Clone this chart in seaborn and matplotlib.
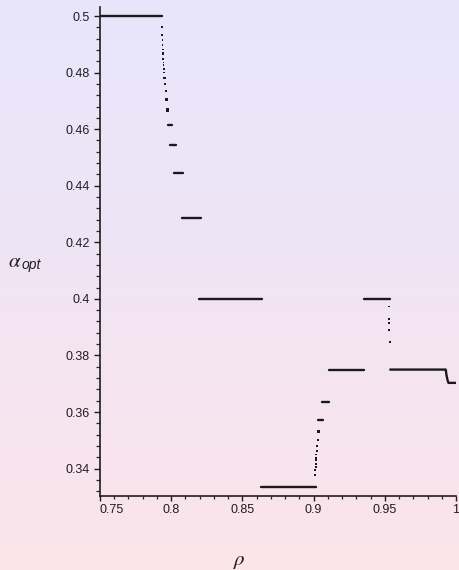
import numpy as np
import pandas as pd
import matplotlib
matplotlib.use("Agg")
import matplotlib.pyplot as plt
from matplotlib.ticker import MultipleLocator, FixedLocator, FixedFormatter
from matplotlib.colors import LinearSegmentedColormap
import seaborn as sns

# ---- data ----
# plateaus (horizontal runs of alpha_opt), each a polyline
plateau_id = [0, 0,
              1, 1,
              2, 2,
              3, 3,
              4, 4,
              5, 5,
              6, 6,
              7, 7,
              8, 8,
              9, 9,
              10, 10,
              11, 11, 11, 11, 11, 11]
plateau_rho = [0.7500, 0.7938,
               0.7979, 0.8005,
               0.7993, 0.8035,
               0.8023, 0.8086,
               0.8075, 0.8209,
               0.8197, 0.8641,
               0.8630, 0.9015,
               0.9034, 0.9063,
               0.9058, 0.9105,
               0.9105, 0.9357,
               0.9354, 0.9537,
               0.9538, 0.9928, 0.9933, 0.9940, 0.9947, 1.0000]
plateau_alpha = [0.5000, 0.5000,
                 0.4615, 0.4615,
                 0.4545, 0.4545,
                 0.4444, 0.4444,
                 0.4286, 0.4286,
                 0.4000, 0.4000,
                 0.3334, 0.3334,
                 0.3571, 0.3571,
                 0.3637, 0.3637,
                 0.3750, 0.3750,
                 0.4000, 0.4000,
                 0.3750, 0.3750, 0.3731, 0.3714, 0.3703, 0.3703]

# isolated transition points
dot_rho = [0.7936, 0.7936, 0.7939, 0.7939, 0.7941, 0.7941, 0.7941, 0.7943,
           0.7946, 0.7946, 0.7948, 0.7948, 0.7953, 0.7957, 0.7962, 0.7967,
           0.7976,
           0.9010, 0.9012, 0.9015, 0.9017, 0.9015, 0.9017, 0.9017, 0.9022,
           0.9024, 0.9029, 0.9036,
           0.9531, 0.9531, 0.9531, 0.9531, 0.9536]
dot_alpha = [0.4962, 0.4933, 0.4915, 0.4897, 0.4882, 0.4870, 0.4865, 0.4847,
             0.4836, 0.4826, 0.4813, 0.4800, 0.4782, 0.4761, 0.4736, 0.4705,
             0.4668,
             0.3377, 0.3395, 0.3406, 0.3416, 0.3430, 0.3438, 0.3450, 0.3462,
             0.3481, 0.3501, 0.3530,
             0.3973, 0.3929, 0.3914, 0.3891, 0.3847]
dot_size = [1.5] * 12 + [2.5, 2.5, 3, 3.5, 5] + [1.5] * 8 + [2.5, 3, 4] + [2, 2, 2, 2.5, 3.5]

x_ticks = [0.75, 0.80, 0.85, 0.90, 0.95, 1.00]
x_labels = ["0.75", "0.8", "0.85", "0.9", "0.95", "1"]
y_ticks = [0.34, 0.36, 0.38, 0.40, 0.42, 0.44, 0.46, 0.48, 0.50]
y_labels = ["0.34", "0.36", "0.38", "0.4", "0.42", "0.44", "0.46", "0.48", "0.5"]

# ---- styling ----
sns.set_style("ticks")
plt.rcParams["font.family"] = ["Liberation Sans", "DejaVu Sans"]
plt.rcParams["mathtext.fontset"] = "stix"

W, H = 460, 570
fig = plt.figure(figsize=(W / 100, H / 100), dpi=100)

# background gradient
bg = fig.add_axes([0, 0, 1, 1], zorder=-10)
cmap = LinearSegmentedColormap.from_list(
    "bg", ["#E8E6FC", "#EDE5F7", "#F5E4F0", "#FCE5EA"])
grad = np.linspace(0, 1, 256).reshape(-1, 1)
bg.imshow(grad, aspect="auto", cmap=cmap, extent=[0, 1, 0, 1], origin="upper")
bg.set_axis_off()

ax = fig.add_axes([100 / W, 1 - 496 / H, 356 / W, 489 / H], zorder=1)
ax.patch.set_alpha(0)

plat = pd.DataFrame({"rho": plateau_rho, "alpha": plateau_alpha, "seg": plateau_id})
dots = pd.DataFrame({"rho": dot_rho, "alpha": dot_alpha, "s": dot_size})

sns.lineplot(data=plat, x="rho", y="alpha", units="seg", estimator=None,
             sort=False, color="#1a1a1a", linewidth=1.7, ax=ax, legend=False)
ax.scatter(dots["rho"], dots["alpha"], s=dots["s"], color="#1a1a1a",
           marker="s", linewidths=0)

ax.set_xlim(0.75, 1.0)
ax.set_ylim(0.3303, 0.5032)

ax.xaxis.set_major_locator(FixedLocator(x_ticks))
ax.xaxis.set_major_formatter(FixedFormatter(x_labels))
ax.yaxis.set_major_locator(FixedLocator(y_ticks))
ax.yaxis.set_major_formatter(FixedFormatter(y_labels))
ax.xaxis.set_minor_locator(MultipleLocator(0.01))
ax.yaxis.set_minor_locator(MultipleLocator(0.004))

ax.tick_params(axis="both", which="major", labelsize=9, colors="#1e1e1e",
               width=1.0)
ax.tick_params(axis="y", which="major", length=4.3, pad=3.2)
ax.tick_params(axis="y", which="minor", length=2.6, width=0.9)
ax.tick_params(axis="x", which="major", length=3.3, pad=2.3)
ax.tick_params(axis="x", which="minor", length=2.0, width=0.9)
ax.get_xticklabels()[0].set_horizontalalignment("left")

for side in ["top", "right"]:
    ax.spines[side].set_visible(False)
for side in ["left", "bottom"]:
    ax.spines[side].set_linewidth(1.2)
    ax.spines[side].set_color("#1e1e1e")

ax.set_xlabel("")
ax.set_ylabel("")

# axis titles
fig.text(8 / W, 1 - 267 / H, r"$\alpha$", fontsize=15, color="#1e1e1e",
         ha="left", va="baseline")
fig.text(22 / W, 1 - 269 / H, "opt", fontsize=10, style="italic",
         color="#1e1e1e", ha="left", va="baseline")
fig.text(239 / W, 1 - 565 / H, r"$\rho$", fontsize=15, color="#1e1e1e",
         ha="center", va="baseline")

fig.savefig("out.png", dpi=100)
